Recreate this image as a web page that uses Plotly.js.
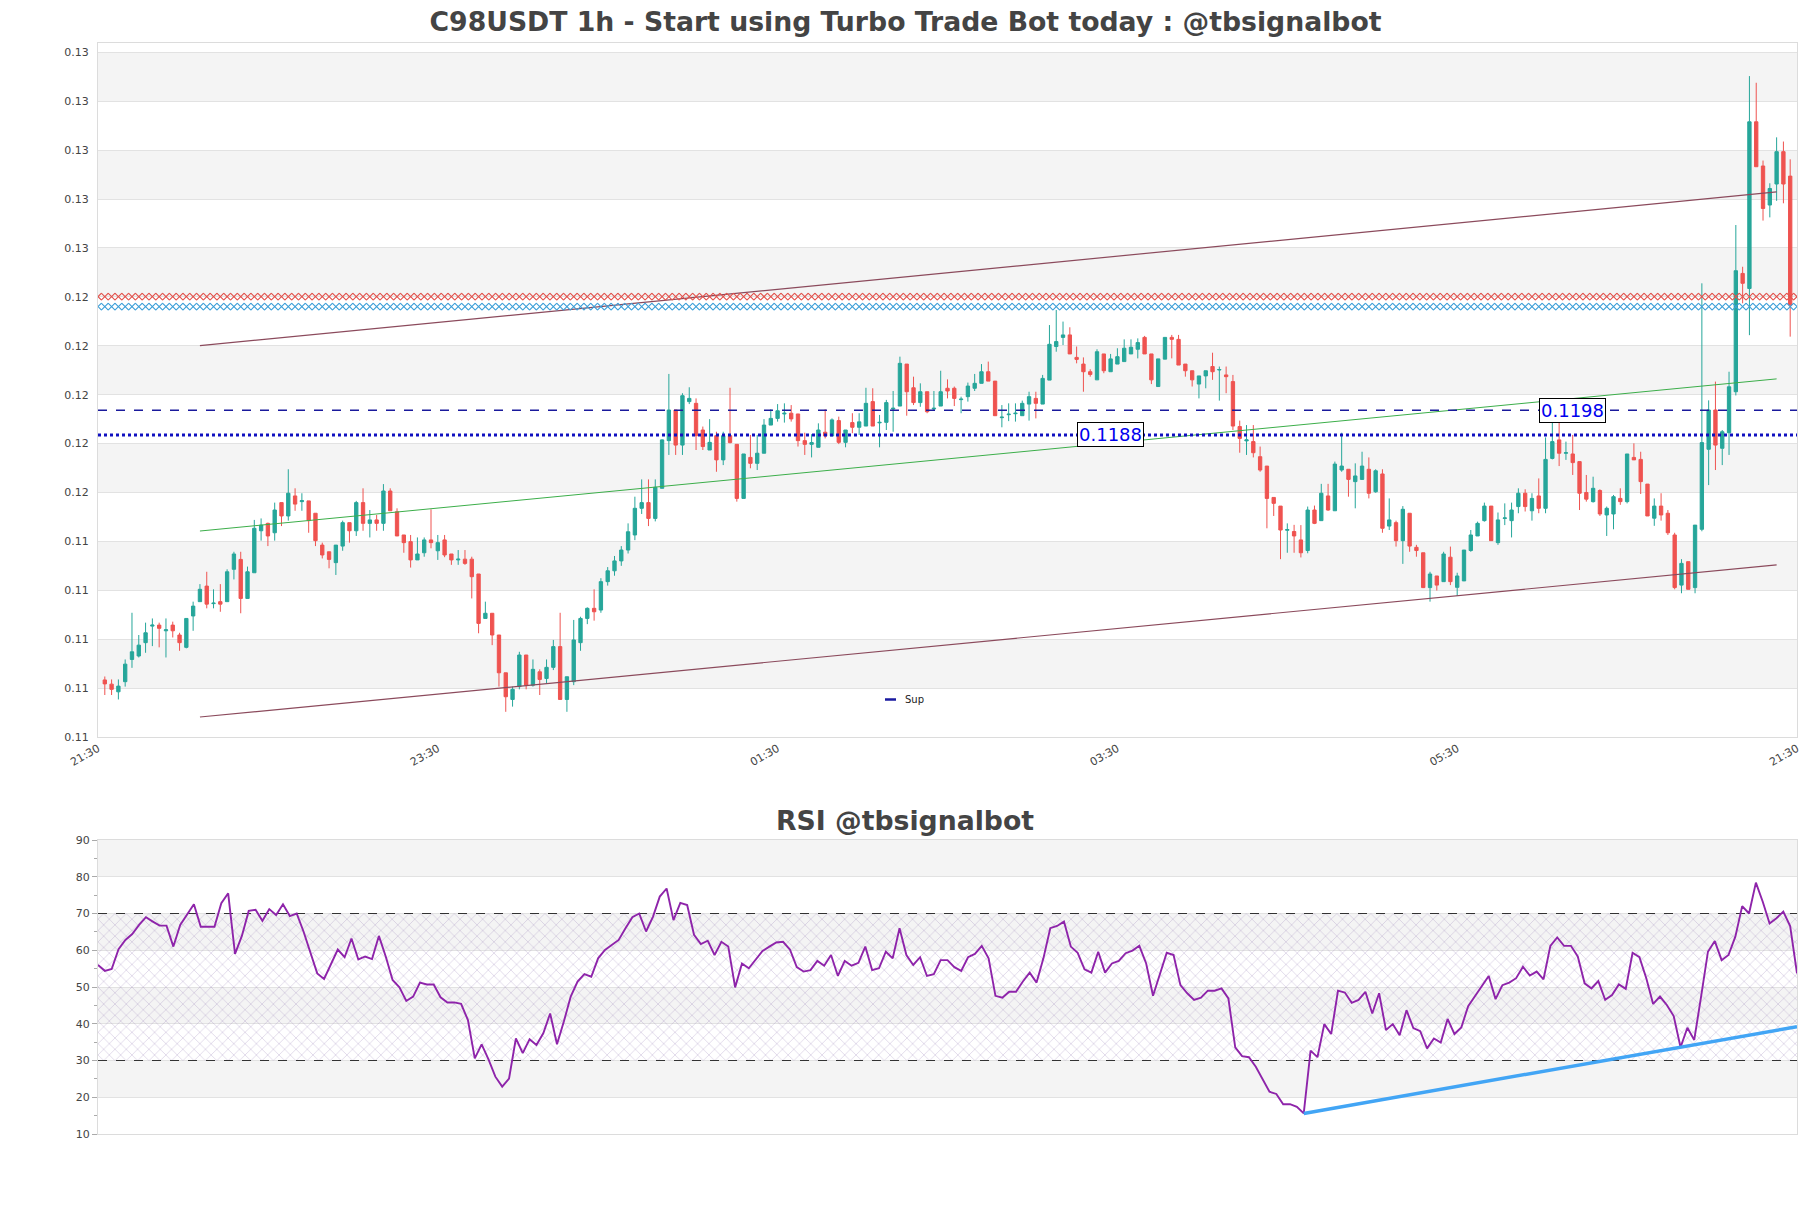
<!DOCTYPE html>
<html><head><meta charset="utf-8">
<script src="https://cdn.plot.ly/plotly-3.0.1.min.js"></script>
<style>html,body{margin:0;padding:0;background:#fff}</style>
</head><body>
<div id="chart" style="width:1811px;height:1208px"></div>
<script>
const openP = [0.10888,0.10871,0.10840,0.10881,0.10971,0.10985,0.11039,0.11106,0.11110,0.11087,
0.11110,0.11070,0.11020,0.11147,0.11205,0.11268,0.11197,0.11205,0.11205,0.11336,
0.11376,0.11218,0.11322,0.11492,0.11522,0.11484,0.11606,0.11552,0.11633,0.11610,
0.11613,0.11563,0.11434,0.11407,0.11363,0.11430,0.11525,0.11492,0.11606,0.11522,
0.11536,0.11522,0.11653,0.11569,0.11475,0.11448,0.11374,0.11403,0.11455,0.11411,
0.11455,0.11398,0.11374,0.11377,0.11377,0.11317,0.11137,0.11158,0.11070,0.10917,
0.10809,0.10861,0.10989,0.10867,0.10921,0.10894,0.10939,0.11023,0.10809,0.10881,
0.11039,0.11137,0.11178,0.11171,0.11286,0.11330,0.11370,0.11414,0.11475,0.11583,
0.11606,0.11542,0.11664,0.11857,0.11981,0.11839,0.12015,0.12008,0.11900,0.11819,
0.11877,0.11779,0.11877,0.11842,0.11623,0.11789,0.11765,0.11806,0.11920,0.11947,
0.11965,0.11968,0.11965,0.11857,0.11842,0.11830,0.11891,0.11876,0.11938,0.11850,
0.11930,0.11911,0.11916,0.12015,0.11929,0.11931,0.11985,0.11997,0.12167,0.12071,
0.12011,0.12055,0.11985,0.11997,0.12069,0.12069,0.12023,0.12035,0.12069,0.12089,
0.12136,0.12098,0.11950,0.11962,0.11966,0.11958,0.12005,0.12028,0.12005,0.12102,
0.12238,0.12275,0.12285,0.12194,0.12167,0.12136,0.12103,0.12208,0.12136,0.12167,
0.12177,0.12208,0.12227,0.12275,0.12208,0.12076,0.12187,0.12275,0.12267,0.12167,
0.12140,0.12086,0.12119,0.12157,0.12143,0.12123,0.12096,0.11914,0.11856,0.11853,
0.11792,0.11754,0.11627,0.11592,0.11494,0.11489,0.11455,0.11412,0.11576,0.11533,
0.11633,0.11573,0.11738,0.11741,0.11691,0.11700,0.11741,0.11650,0.11722,0.11511,
0.11525,0.11452,0.11563,0.11425,0.11403,0.11262,0.11309,0.11286,0.11385,0.11263,
0.11289,0.11412,0.11471,0.11533,0.11592,0.11444,0.11542,0.11533,0.11590,0.11644,
0.11573,0.11633,0.11583,0.11785,0.11860,0.11806,0.11803,0.11772,0.11647,0.11610,
0.11655,0.11556,0.11560,0.11623,0.11610,0.11789,0.11781,0.11681,0.11543,0.11592,
0.11563,0.11475,0.11272,0.11367,0.11262,0.11498,0.11822,0.11981,0.11826,0.11889,
0.12055,0.12534,0.12473,0.13148,0.12969,0.12811,0.12896,0.13027,0.12928];
const highP = [0.10902,0.10890,0.10890,0.10971,0.11160,0.11070,0.11120,0.11137,0.11120,0.11137,
0.11124,0.11079,0.11137,0.11205,0.11276,0.11326,0.11255,0.11276,0.11336,0.11407,
0.11407,0.11347,0.11536,0.11542,0.11525,0.11606,0.11606,0.11741,0.11664,0.11644,
0.11613,0.11563,0.11444,0.11407,0.11434,0.11533,0.11525,0.11613,0.11664,0.11576,
0.11556,0.11681,0.11664,0.11583,0.11475,0.11475,0.11465,0.11465,0.11579,0.11475,
0.11475,0.11398,0.11414,0.11414,0.11387,0.11317,0.11205,0.11158,0.11070,0.10917,
0.10861,0.11002,0.10989,0.10971,0.10931,0.10971,0.11050,0.11160,0.10901,0.11131,
0.11144,0.11182,0.11255,0.11300,0.11345,0.11390,0.11430,0.11522,0.11630,0.11700,
0.11700,0.11700,0.11862,0.12127,0.11981,0.12049,0.12073,0.12028,0.11914,0.11944,
0.11893,0.11893,0.12071,0.11842,0.11803,0.11880,0.11880,0.11944,0.11984,0.12005,
0.12008,0.12001,0.11965,0.11889,0.11883,0.11927,0.11984,0.11947,0.11954,0.11900,
0.11968,0.11968,0.12071,0.12069,0.11961,0.12022,0.12058,0.12197,0.12167,0.12116,
0.12089,0.12055,0.12058,0.12140,0.12105,0.12076,0.12035,0.12092,0.12127,0.12167,
0.12177,0.12098,0.12001,0.12008,0.12008,0.12019,0.12055,0.12055,0.12123,0.12325,
0.12386,0.12339,0.12316,0.12238,0.12194,0.12146,0.12227,0.12208,0.12208,0.12231,
0.12267,0.12267,0.12271,0.12281,0.12208,0.12188,0.12275,0.12285,0.12285,0.12167,
0.12140,0.12119,0.12140,0.12213,0.12157,0.12157,0.12123,0.11938,0.11920,0.11920,
0.11833,0.11754,0.11627,0.11592,0.11522,0.11516,0.11515,0.11590,0.11594,0.11682,
0.11682,0.11772,0.11889,0.11741,0.11765,0.11812,0.11789,0.11741,0.11741,0.11623,
0.11533,0.11592,0.11563,0.11435,0.11403,0.11326,0.11309,0.11407,0.11428,0.11322,
0.11414,0.11495,0.11529,0.11606,0.11592,0.11566,0.11603,0.11606,0.11664,0.11660,
0.11644,0.11704,0.11870,0.11930,0.11954,0.11853,0.11880,0.11772,0.11718,0.11711,
0.11660,0.11590,0.11637,0.11664,0.11803,0.11846,0.11812,0.11681,0.11623,0.11644,
0.11576,0.11484,0.11377,0.11367,0.11515,0.12494,0.12020,0.12096,0.11900,0.12136,
0.12730,0.12561,0.13333,0.13306,0.12991,0.12899,0.13085,0.13068,0.12996];
const lowP = [0.10827,0.10827,0.10809,0.10861,0.10937,0.10979,0.10998,0.11025,0.11020,0.10979,
0.11060,0.11006,0.11016,0.11087,0.11205,0.11178,0.11178,0.11164,0.11205,0.11295,
0.11158,0.11218,0.11322,0.11452,0.11430,0.11452,0.11511,0.11533,0.11573,0.11573,
0.11484,0.11430,0.11380,0.11340,0.11313,0.11411,0.11444,0.11471,0.11492,0.11465,
0.11492,0.11492,0.11573,0.11471,0.11403,0.11343,0.11374,0.11387,0.11421,0.11374,
0.11385,0.11354,0.11354,0.11354,0.11218,0.11077,0.11137,0.11029,0.10861,0.10759,
0.10780,0.10850,0.10850,0.10861,0.10827,0.10874,0.10928,0.10809,0.10759,0.10867,
0.11006,0.11114,0.11128,0.11160,0.11270,0.11310,0.11350,0.11400,0.11454,0.11560,
0.11511,0.11530,0.11664,0.11799,0.11799,0.11799,0.12005,0.11819,0.11819,0.11819,
0.11731,0.11758,0.11846,0.11610,0.11623,0.11745,0.11738,0.11806,0.11920,0.11934,
0.11930,0.11934,0.11833,0.11799,0.11789,0.11830,0.11866,0.11876,0.11843,0.11830,
0.11887,0.11880,0.11916,0.11916,0.11830,0.11900,0.11893,0.11997,0.11958,0.12001,
0.11994,0.11968,0.11981,0.11997,0.12028,0.11997,0.11968,0.12015,0.12058,0.12089,
0.12098,0.11958,0.11911,0.11936,0.11934,0.11958,0.11938,0.11947,0.12005,0.12102,
0.12217,0.12244,0.12208,0.12170,0.12055,0.12116,0.12103,0.12130,0.12136,0.12167,
0.12177,0.12208,0.12190,0.12208,0.12086,0.12076,0.12187,0.12190,0.12163,0.12116,
0.12076,0.12028,0.12069,0.12103,0.12019,0.12049,0.11900,0.11808,0.11799,0.11789,
0.11731,0.11502,0.11552,0.11377,0.11403,0.11403,0.11384,0.11401,0.11519,0.11533,
0.11573,0.11573,0.11731,0.11630,0.11583,0.11698,0.11623,0.11646,0.11484,0.11495,
0.11428,0.11358,0.11407,0.11387,0.11260,0.11205,0.11250,0.11286,0.11272,0.11228,
0.11289,0.11407,0.11471,0.11529,0.11452,0.11435,0.11515,0.11465,0.11563,0.11570,
0.11533,0.11563,0.11563,0.11781,0.11754,0.11779,0.11718,0.11576,0.11610,0.11606,
0.11552,0.11471,0.11498,0.11597,0.11603,0.11779,0.11641,0.11552,0.11512,0.11533,
0.11475,0.11255,0.11239,0.11255,0.11239,0.11490,0.11677,0.11738,0.11758,0.11799,
0.12040,0.12413,0.12284,0.12966,0.12748,0.12761,0.12828,0.12818,0.12278];
const closeP = [0.10872,0.10850,0.10863,0.10952,0.11002,0.11029,0.11079,0.11110,0.11097,0.11091,
0.11087,0.11039,0.11137,0.11187,0.11255,0.11195,0.11199,0.11195,0.11326,0.11398,
0.11218,0.11326,0.11502,0.11515,0.11471,0.11576,0.11552,0.11644,0.11600,0.11614,
0.11533,0.11452,0.11394,0.11376,0.11434,0.11525,0.11492,0.11606,0.11522,0.11536,
0.11522,0.11653,0.11573,0.11471,0.11444,0.11374,0.11398,0.11455,0.11444,0.11444,
0.11394,0.11374,0.11377,0.11360,0.11306,0.11117,0.11158,0.11070,0.10917,0.10820,
0.10850,0.10989,0.10867,0.10931,0.10890,0.10939,0.11023,0.10809,0.10901,0.11050,
0.11137,0.11178,0.11164,0.11286,0.11330,0.11370,0.11414,0.11488,0.11583,0.11606,
0.11542,0.11668,0.11860,0.11981,0.11839,0.12039,0.12028,0.11877,0.11833,0.11850,
0.11779,0.11877,0.11849,0.11623,0.11803,0.11765,0.11806,0.11920,0.11947,0.11978,
0.11968,0.11945,0.11857,0.11842,0.11849,0.11900,0.11876,0.11941,0.11850,0.11900,
0.11911,0.11933,0.12008,0.11916,0.11931,0.12011,0.11988,0.12170,0.12055,0.12011,
0.12055,0.11974,0.11988,0.12055,0.12058,0.12028,0.12025,0.12078,0.12089,0.12136,
0.12098,0.11958,0.11952,0.11964,0.11968,0.12008,0.12035,0.12008,0.12109,0.12247,
0.12258,0.12285,0.12208,0.12186,0.12136,0.12125,0.12217,0.12140,0.12188,0.12197,
0.12231,0.12235,0.12254,0.12208,0.12103,0.12188,0.12275,0.12267,0.12163,0.12140,
0.12103,0.12119,0.12140,0.12136,0.12145,0.12116,0.11916,0.11866,0.11860,0.11808,
0.11738,0.11623,0.11603,0.11495,0.11497,0.11471,0.11403,0.11576,0.11522,0.11644,
0.11576,0.11762,0.11754,0.11700,0.11714,0.11754,0.11644,0.11735,0.11502,0.11536,
0.11452,0.11579,0.11430,0.11412,0.11262,0.11317,0.11272,0.11398,0.11286,0.11309,
0.11414,0.11475,0.11522,0.11592,0.11452,0.11536,0.11544,0.11576,0.11644,0.11590,
0.11623,0.11583,0.11781,0.11853,0.11806,0.11808,0.11768,0.11644,0.11620,0.11664,
0.11560,0.11583,0.11630,0.11610,0.11803,0.11779,0.11691,0.11552,0.11592,0.11556,
0.11484,0.11262,0.11360,0.11255,0.11515,0.11849,0.11981,0.11839,0.11893,0.12075,
0.12545,0.12494,0.13148,0.12966,0.12797,0.12878,0.13027,0.12896,0.12406];
const rsi = [56.0,54.4,54.9,60.3,62.8,64.4,66.9,69.0,67.8,66.7,66.7,61.0,66.9,69.6,72.5,66.4,66.4,66.4,72.8,75.5,
59.0,63.9,70.7,71.0,68.0,71.2,69.6,72.5,69.3,70.0,65.1,59.2,53.7,52.2,56.0,60.2,58.1,63.2,57.5,58.3,
57.6,63.9,58.3,51.9,49.9,46.2,47.4,51.2,50.7,50.7,47.2,45.8,45.8,45.4,41.0,30.6,34.4,30.3,25.6,22.9,
25.1,36.0,32.0,35.8,34.2,37.4,42.8,34.4,40.6,47.4,51.5,53.5,52.8,57.8,60.1,61.4,62.8,66.0,69.0,70.0,
65.1,69.1,74.6,76.8,68.2,72.9,72.3,64.2,61.7,62.6,58.7,62.3,61.0,49.9,56.4,55.1,57.3,59.8,61.0,62.1,
62.3,60.2,55.4,54.2,54.6,57.1,55.8,58.7,53.0,57.1,55.8,56.6,61.0,54.6,55.1,59.6,57.8,66.0,58.7,56.0,
58.1,53.0,53.5,57.3,57.3,55.4,54.4,58.1,59.0,61.2,57.8,47.6,47.1,48.7,48.7,51.5,53.9,51.2,57.8,66.0,
66.6,67.8,61.0,59.3,54.8,53.9,59.6,53.9,56.4,57.1,59.2,59.9,61.2,56.4,47.6,53.7,59.3,58.7,50.5,48.3,
46.5,47.1,49.0,49.0,49.6,46.9,33.6,31.2,30.9,28.3,25.1,21.5,20.9,18.1,18.1,17.4,15.6,32.7,30.9,39.9,
37.2,49.0,48.5,45.7,46.5,48.7,42.8,48.3,38.3,39.9,36.9,43.7,38.8,38.0,33.3,36.0,34.9,41.3,37.2,39.0,
44.8,47.6,50.5,53.0,46.7,50.5,51.2,52.4,55.5,53.1,54.2,52.1,61.2,63.5,61.2,61.2,58.3,51.0,49.6,51.6,
46.5,47.8,50.7,49.5,59.3,58.1,52.4,45.4,47.4,45.1,42.1,33.6,38.9,35.6,47.4,59.6,62.5,57.3,58.7,63.7,
72.0,70.0,78.4,73.2,67.3,68.7,70.5,66.6,53.7];
const timeLabels = ["21:30","23:30","01:30","03:30","05:30","21:30"];
const priceTicks = [0.10657,0.10855,0.11053,0.11251,0.11449,0.11647,0.11845,0.12043,0.12241,0.12439,0.12637,0.12835,0.13033,0.13231,0.13429];
const priceTop = 0.13467;
const supLevel = 0.1188;
const resLevel = 0.1198;
const redLevel = 0.1244;
const blueLevel = 0.1240;
const channelX = [14, 246];
const upperLine = [0.12242, 0.12864];
const midLine = [0.11491, 0.12107];
const lowerLine = [0.10738, 0.11354];
const rsiTrendX = [176, 248];
const rsiTrendY = [15.6, 39.2];
const rsiTicks = [10,20,30,40,50,60,70,80,90];
const rsiBounds = [30, 70];

const N = closeP.length;
const idx = closeP.map((_, i) => i);
const xMin = -1, xMax = N;
const fullX = [];
for (let i = xMin; i <= xMax; i++) fullX.push(i);
const tickPos = timeLabels.map((_, k) => xMin + k * (xMax - xMin) / (timeLabels.length - 1));
const FONT = 'DejaVu Sans';
const skip = {showlegend:false, hoverinfo:'skip'};

const traces = [];
traces.push(Object.assign({type:'candlestick', x: idx, open: openP, high: highP, low: lowP, close: closeP,
  increasing:{line:{color:'#26a69a', width:1}, fillcolor:'#26a69a'},
  decreasing:{line:{color:'#ef5350', width:1}, fillcolor:'#ef5350'},
  whiskerwidth:0, xaxis:'x', yaxis:'y'}, skip));
traces.push(Object.assign({type:'scatter', mode:'lines', x: channelX, y: upperLine, line:{color:'#8b4a5c', width:1.2}}, skip));
traces.push(Object.assign({type:'scatter', mode:'lines', x: channelX, y: lowerLine, line:{color:'#8b4a5c', width:1.2}}, skip));
traces.push(Object.assign({type:'scatter', mode:'lines', x: channelX, y: midLine, line:{color:'#3cae4a', width:1}}, skip));
traces.push(Object.assign({type:'scatter', mode:'markers', x: fullX, y: fullX.map(() => redLevel),
  marker:{symbol:'x-thin-open', size:7, line:{color:'#e2504a', width:1.1}, color:'#e2504a'}}, skip));
traces.push(Object.assign({type:'scatter', mode:'markers', x: fullX, y: fullX.map(() => blueLevel),
  marker:{symbol:'x-thin-open', size:7, line:{color:'#3a9ed8', width:1.1}, color:'#3a9ed8'}}, skip));
traces.push(Object.assign({type:'scatter', mode:'lines', x:[xMin, xMax], y:[resLevel, resLevel], line:{color:'#1a1a9c', width:1.3, dash:'dash'}}, skip));
traces.push(Object.assign({type:'scatter', mode:'lines', x:[xMin, xMax], y:[supLevel, supLevel], line:{color:'#1010c0', width:3, dash:'dot'}}, skip));
// legend proxy for the support line
traces.push({type:'scatter', mode:'lines', x:[null], y:[null], name:'Sup', showlegend:true, hoverinfo:'skip',
  line:{color:'#1a1aa0', width:2.5, dash:'0px,15px,11px,40px'}});

// RSI
traces.push(Object.assign({type:'scatter', mode:'lines', x:[0, N-1], y:[rsiBounds[0], rsiBounds[0]], line:{width:0}, xaxis:'x2', yaxis:'y2'}, skip));
traces.push(Object.assign({type:'scatter', mode:'lines', x:[0, N-1], y:[rsiBounds[1], rsiBounds[1]], line:{width:0}, fill:'tonexty',
  fillcolor:'rgba(0,0,0,0)',
  fillpattern:{shape:'x', size:8, solidity:0.12, fgcolor:'rgba(150,125,180,0.55)', bgcolor:'rgba(0,0,0,0)'},
  xaxis:'x2', yaxis:'y2'}, skip));
rsiBounds.forEach(v => traces.push(Object.assign({type:'scatter', mode:'lines', x:[0, N-1], y:[v, v], line:{color:'#333', width:1.2, dash:'dash'}, xaxis:'x2', yaxis:'y2'}, skip)));
traces.push(Object.assign({type:'scatter', mode:'lines', x: idx, y: rsi, line:{color:'#8e24aa', width:1.9}, xaxis:'x2', yaxis:'y2'}, skip));
traces.push(Object.assign({type:'scatter', mode:'lines', x: rsiTrendX, y: rsiTrendY, line:{color:'#42a5f5', width:3.5}, xaxis:'x2', yaxis:'y2'}, skip));

const shapes = [];
for (let k = 1; k < priceTicks.length - 1; k += 2) {
  shapes.push({type:'rect', xref:'x domain', yref:'y', x0:0, x1:1, y0:priceTicks[k], y1:priceTicks[k+1], fillcolor:'#f4f4f4', line:{width:0}, layer:'below'});
}
for (let k = 1; k < rsiTicks.length - 1; k += 2) {
  shapes.push({type:'rect', xref:'x2 domain', yref:'y2', x0:0, x1:1, y0:rsiTicks[k], y1:rsiTicks[k+1], fillcolor:'#f4f4f4', line:{width:0}, layer:'below'});
}

const tickFont = {family: FONT, size: 11, color:'#444'};
const layout = {
  width:1811, height:1208,
  margin:{l:98, r:14, t:43, b:74},
  paper_bgcolor:'#fff', plot_bgcolor:'#fff',
  title:{text:'C98USDT 1h - Start using Turbo Trade Bot today : @tbsignalbot', x:0.5, xanchor:'center', y:1-22/1208, yanchor:'middle',
    font:{family:FONT, size:26.7, color:'#444', weight:'bold'}},
  xaxis:{domain:[0,1], anchor:'y', range:[xMin, xMax], tickvals: tickPos, ticktext: timeLabels, tickangle:-30,
    tickfont: tickFont, showgrid:false, zeroline:false, showline:true, linecolor:'#dcdcdc', mirror:true, ticks:'', rangeslider:{visible:false}},
  yaxis:{domain:[(1134-737)/1091, 1], anchor:'x', range:[priceTicks[0], priceTop], tickvals: priceTicks, ticktext: priceTicks.map(v => v.toFixed(2)),
    tickfont: tickFont, showgrid:true, gridcolor:'#e2e2e2', gridwidth:1, zeroline:false, showline:true, linecolor:'#dcdcdc', mirror:true,
    ticks:'outside', ticklen:6, tickcolor:'rgba(0,0,0,0)'},
  xaxis2:{domain:[0,1], anchor:'y2', range:[0, N-1], showticklabels:false, showgrid:false, zeroline:false, showline:true, linecolor:'#dcdcdc', mirror:true, ticks:''},
  yaxis2:{domain:[0, (1134-840)/1091], anchor:'x2', range:[rsiTicks[0], rsiTicks[rsiTicks.length-1]], tickvals: rsiTicks,
    tickfont: tickFont, showgrid:true, gridcolor:'#e2e2e2', zeroline:false, showline:true, linecolor:'#dcdcdc', mirror:true,
    ticks:'outside', ticklen:5, tickcolor:'#aaa', minor:{ticks:'outside', ticklen:3, dtick:5, tickcolor:'#aaa', showgrid:false}},
  showlegend:true,
  legend:{x:(865-98)/1699, y:(1134-685)/1091, xanchor:'left', yanchor:'top', bgcolor:'rgba(255,255,255,0)', font:{family:FONT, size:10, color:'#222'}},
  shapes: shapes,
  annotations:[
    {text:'RSI @tbsignalbot', xref:'paper', yref:'paper', x:(905-98)/1699, y:(1134-820)/1091, xanchor:'center', yanchor:'middle', showarrow:false,
      font:{family:FONT, size:26.7, color:'#444', weight:'bold'}},
    {text: supLevel.toFixed(4), xref:'x', yref:'y', x:148, y:supLevel, showarrow:false, font:{family:FONT, size:18, color:'#0000ee'},
      bgcolor:'#fff', bordercolor:'#000', borderwidth:1, borderpad:1},
    {text: resLevel.toFixed(4), xref:'x', yref:'y', x:216, y:resLevel, showarrow:false, font:{family:FONT, size:18, color:'#0000ee'},
      bgcolor:'#fff', bordercolor:'#000', borderwidth:1, borderpad:1}
  ],
  hovermode:false
};
Plotly.newPlot('chart', traces, layout, {displayModeBar:false, staticPlot:true});
</script>
</body></html>
